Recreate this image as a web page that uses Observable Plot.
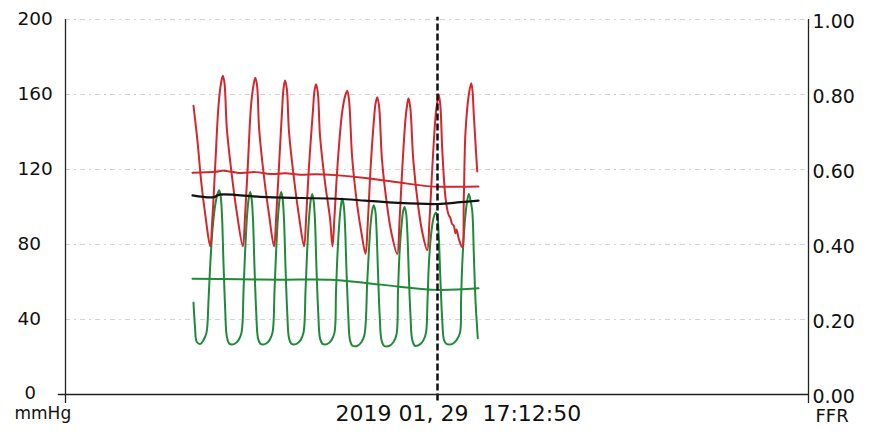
<!DOCTYPE html>
<html><head><meta charset="utf-8">
<script src="https://cdn.jsdelivr.net/npm/d3@7"></script>
<script src="https://cdn.jsdelivr.net/npm/@observablehq/plot@0.6"></script>
<style>html,body{margin:0;padding:0;background:#fff}</style>
</head><body><div id="chart"></div>
<script>
// time in seconds
const paT = [3.200,3.300,3.400,3.500,3.618,
 3.675,3.743,3.825,3.888,3.933,3.975,4.033,4.158,4.283,4.433,
 4.488,4.558,4.638,4.700,4.743,4.788,4.843,4.963,5.088,5.213,
 5.268,5.338,5.418,5.450,5.488,5.533,5.588,5.713,5.838,5.963,
 6.018,6.088,6.188,6.225,6.263,6.308,6.363,6.488,6.613,6.675,
 6.725,6.800,6.913,6.988,7.043,7.088,7.168,7.293,7.400,7.500,
 7.558,7.625,7.713,7.750,7.793,7.838,7.913,8.038,8.150,8.293,
 8.350,8.418,8.500,8.538,8.575,8.620,8.695,8.820,8.925,9.043,
 9.100,9.168,9.250,9.295,9.333,9.375,9.418,9.500,9.575,9.625,9.663,9.708,9.750,9.775,9.833,9.918,
 9.958,10.000,10.083,10.143,10.175,10.208,10.293];
const paV = [154,135,112,95,79,
 95,122,154,166,170,166,142,117,97,79,
 95,122,154,165,169,165,141,116,96,79,
 95,122,153,163,167.5,163,140,115,95,79,
 95,122,152,162,165.5,161,138,113,94,79,
 95,122,150,159,162,157,126,101,86,75,
 92,120,147,155,158.5,154,125,101,86,75,
 92,120,147,154,158,153,125,100,86,77,
 93,120,148,156,160,153,131,105,96,94,91,90,86,88,83,78.6,
 105,140,160,166,162,149,119];

const pdT = [3.200,3.238,3.283,3.375,3.450,3.525,
 3.575,3.618,3.675,3.743,3.800,3.843,3.883,3.913,3.950,3.993,4.033,4.100,4.225,4.325,4.400,
 4.450,4.488,4.538,4.583,4.618,4.655,4.688,4.725,4.768,4.813,4.875,5.000,5.100,5.175,
 5.225,5.263,5.313,5.358,5.393,5.430,5.463,5.500,5.543,5.588,5.650,5.775,5.875,5.950,
 6.000,6.038,6.088,6.133,6.168,6.205,6.238,6.275,6.318,6.363,6.425,6.550,6.650,6.725,
 6.763,6.800,6.850,6.888,6.918,6.955,6.988,7.025,7.068,7.113,7.175,7.300,7.400,7.475,
 7.543,7.588,7.633,7.675,7.708,7.745,7.775,7.813,7.855,7.900,7.963,8.100,8.200,8.275,
 8.313,8.350,8.400,8.443,8.475,8.513,8.545,8.583,8.625,8.670,8.738,8.875,8.950,9.013,
 9.050,9.083,9.138,9.200,9.250,9.295,9.330,9.375,9.418,9.463,9.525,9.675,9.775,9.863,
 9.888,9.918,9.975,10.033,10.083,10.120,10.168,10.208,10.250,10.308];
const pdV = [49,36,28,27,29,33,
 50,69,88,101,107,109,105,95,70,45,31,27,27,29,33,
 55,75,95,105,108,104,93,68,44,30,27,27,29,33,
 55,75,95,105,108,104,93,68,44,30,27,27,29,33,
 55,75,94,104,107,103,92,67,44,30,27,27,29,33,
 55,75,93,101,104.5,101,90,66,43,29,26,26,28,32,
 60,78,92,99,101,98,88,65,42,29,26,26,28,32,
 55,75,90,98,100,97,87,64,42,29,26,27,29,33,
 50,69,85,94,97,95,85,60,40,29,27,27,29,33,
 50,69,90,102,107,104,98,75,50,30];

const paMeanT = [3.175,3.750,3.950,4.375,4.750,5.125,5.500,5.875,6.250,6.750,7.500,8.300,9.125,9.750,10.325];
const paMeanV = [118.3,118.8,119.4,118.1,118.6,117.6,118.0,117.2,117.5,117.0,115.5,113.2,111.0,110.8,110.9];

const pdMeanT = [3.175,4.375,5.375,6.625,7.500,8.300,9.300,10.325];
const pdMeanV = [61.7,61.5,61.2,61.2,59.5,57.6,55.8,56.7];

const ffrT = [3.175,3.700,3.850,4.875,5.875,6.800,7.500,8.300,9.300,9.875,10.325];
const ffrV = [0.531,0.526,0.533,0.527,0.524,0.522,0.517,0.511,0.508,0.513,0.517];

const cursorT = 9.300;
const leftTicks = [0,40,80,120,160,200];
const rightTicks = [0,0.2,0.4,0.6,0.8,1.0];
const dateLabel = "2019 01, 29  17:12:50";
const leftUnit = "mmHg";
const rightUnit = "FFR";

const X0 = 0, X1 = 18.575;
const RED = "#d4262d", GREEN = "#1f8a3a";

const zip = (T, V) => T.map((t, i) => ({t, v: V[i]}));
const pa = zip(paT, paV), pd = zip(pdT, pdV);
const paMean = zip(paMeanT, paMeanV), pdMean = zip(pdMeanT, pdMeanV);
const ffr = zip(ffrT, ffrV);

const chart = Plot.plot({
  width: 875, height: 434,
  marginLeft: 65, marginRight: 67, marginTop: 19, marginBottom: 40,
  x: {domain: [X0, X1], axis: null},
  y: {domain: [0, 200], axis: null},
  style: {fontFamily: "DejaVu Sans", background: "#fff", overflow: "visible", color: "#111"},
  marks: [
    Plot.ruleY(leftTicks.filter(d => d > 0), {stroke: "#aaa", strokeOpacity: 0.5, strokeDasharray: "5,4,2,4"}),
    Plot.line(pd, {x: "t", y: "v", stroke: GREEN, strokeWidth: 2, curve: "catmull-rom"}),
    Plot.line(pa, {x: "t", y: "v", stroke: RED, strokeWidth: 2, curve: "catmull-rom"}),
    Plot.line(pdMean, {x: "t", y: "v", stroke: GREEN, strokeWidth: 2, curve: "catmull-rom"}),
    Plot.line(paMean, {x: "t", y: "v", stroke: RED, strokeWidth: 2, curve: "catmull-rom"}),
    Plot.line(ffr, {x: "t", y: d => d.v * 200, stroke: "#111", strokeWidth: 2.2, curve: "catmull-rom"}),
    Plot.ruleX([cursorT], {y1: -3.5, y2: 201.2, stroke: "#111", strokeWidth: 2.5, strokeDasharray: "7,3"}),
    Plot.ruleX([X0, X1], {y1: -4.8, y2: 200, stroke: "#222", strokeWidth: 1.3}),
    Plot.ruleY([0], {x1: X0 - 0.18, x2: X1, stroke: "#222", strokeWidth: 1.3}),
    Plot.text(leftTicks.filter(d => d > 0), {x: X0, y: d => d, text: d => String(d), textAnchor: "start", dx: -48, fontSize: 18.5, fill: "#111"}),
    Plot.text(leftTicks.filter(d => d === 0), {x: X0, y: d => d, text: d => String(d), textAnchor: "start", dx: -41, dy: -1, fontSize: 18, fill: "#111"}),
    Plot.text(rightTicks, {x: X1, y: d => d * 200, text: d => d.toFixed(2), textAnchor: "start", dx: 4, dy: 2, fontSize: 19, fill: "#111"}),
    Plot.text([leftUnit], {frameAnchor: "bottom-left", lineAnchor: "middle", textAnchor: "start", dx: -51, dy: 19, fontSize: 17, fill: "#111"}),
    Plot.text([rightUnit], {frameAnchor: "bottom-right", lineAnchor: "middle", textAnchor: "start", dx: 7, dy: 22, fontSize: 18, fill: "#111"}),
    Plot.text([dateLabel], {frameAnchor: "bottom-left", lineAnchor: "middle", textAnchor: "start", dx: 270, dy: 19.5, fontSize: 22, fill: "#111"})
  ]
});
document.getElementById("chart").appendChild(chart);
</script>
</body></html>
